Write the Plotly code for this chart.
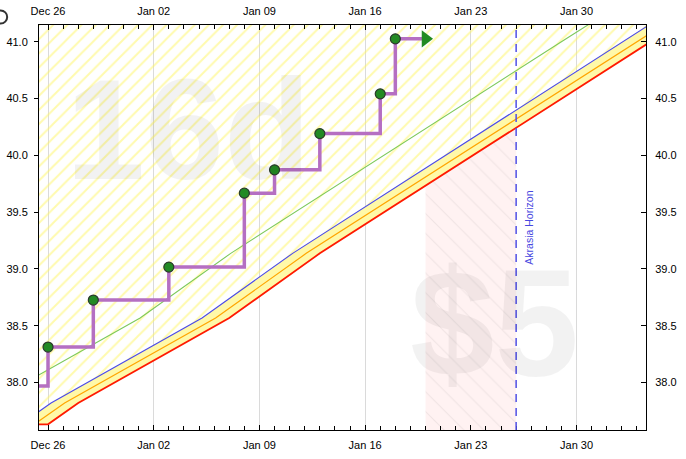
import plotly.graph_objects as go
import numpy as np
import pandas as pd

# ---------------- data ----------------
RED_DATES = ["2022-12-25", "2022-12-26", "2022-12-28", "2023-01-07", "2023-01-13", "2023-02-04"]
RED_VALUES = [37.632, 37.632, 37.820, 38.568, 39.137, 41.008]

ORANGE_DATES = ["2022-12-24 02:24", "2022-12-25 02:24", "2022-12-27 02:24", "2023-01-06 02:24",
                "2023-01-12 02:24", "2023-02-03 02:24", "2023-02-05"]
ORANGE_VALUES = [37.632, 37.632, 37.820, 38.568, 39.137, 41.008, 41.17]

BLUE_DATES = ["2022-12-23 04:48", "2022-12-24 04:48", "2022-12-26 04:48", "2023-01-05 04:48",
              "2023-01-11 04:48", "2023-02-02 04:48", "2023-02-05"]
BLUE_VALUES = [37.632, 37.632, 37.820, 38.568, 39.137, 41.008, 41.25]

GREEN_DATES = ["2022-12-20 02:24", "2022-12-22 02:24", "2023-01-01 02:24", "2023-01-07 02:24",
               "2023-01-29 02:24", "2023-02-05"]
GREEN_VALUES = [37.632, 37.820, 38.568, 39.137, 41.008, 41.59]

DATA_DATES = ["2022-12-25", "2022-12-26", "2022-12-29", "2023-01-03", "2023-01-08",
              "2023-01-10", "2023-01-13", "2023-01-17", "2023-01-18"]
DATA_VALUES = [37.969, 38.312, 38.726, 39.016, 39.667, 39.872, 40.191, 40.541, 41.025]

TODAY = "2023-01-20"
AKRASIA_HORIZON = "2023-01-26"
WATERMARK_DAYS = "16d"
WATERMARK_PLEDGE = "$5"

X_RANGE = ["2022-12-25 09:40", "2023-02-03 14:24"]
Y_RANGE = [37.582, 41.147]
Y_TICKS = [38.0, 38.5, 39.0, 39.5, 40.0, 40.5, 41.0]

# ---------------- derived ----------------
DAY_MS = 86400000
red_ts = pd.to_datetime(RED_DATES).astype("int64").to_numpy()
def red_at(d):
    t = pd.Timestamp(d).value
    return float(np.interp(t, red_ts, RED_VALUES))

YELLOW_HATCH = "#fff55c"
BAND = "#fff9a8"
FONT = "Liberation Sans, Arial, sans-serif"

fig = go.Figure()

# hatched "safe" region above blue line
fig.add_trace(go.Scatter(x=BLUE_DATES, y=BLUE_VALUES, mode="lines",
                         line=dict(width=0, color="rgba(0,0,0,0)"), hoverinfo="skip", showlegend=False))
top = Y_RANGE[1] + 0.6
fig.add_trace(go.Scatter(x=[BLUE_DATES[0], BLUE_DATES[-1]], y=[top, top], mode="lines",
                         line=dict(width=0, color="rgba(0,0,0,0)"), fill="tonexty",
                         fillcolor=YELLOW_HATCH,
                         fillpattern=dict(shape="/", fgcolor=YELLOW_HATCH, bgcolor="rgba(255,255,255,0)",
                                          size=10, solidity=0.2),
                         hoverinfo="skip", showlegend=False))

# solid yellow band between red and blue
fig.add_trace(go.Scatter(x=RED_DATES, y=RED_VALUES, mode="lines",
                         line=dict(width=0, color="rgba(0,0,0,0)"), hoverinfo="skip", showlegend=False))
fig.add_trace(go.Scatter(x=BLUE_DATES, y=BLUE_VALUES, mode="lines",
                         line=dict(width=0, color="rgba(0,0,0,0)"), fill="tonexty",
                         fillcolor=BAND, hoverinfo="skip", showlegend=False))

# pink zone between today and akrasia horizon, below the red line
bottom = Y_RANGE[0] - 0.5
fig.add_trace(go.Scatter(
    x=[TODAY, TODAY, AKRASIA_HORIZON, AKRASIA_HORIZON, TODAY],
    y=[bottom, red_at(TODAY), red_at(AKRASIA_HORIZON), bottom, bottom],
    mode="lines", line=dict(width=0, color="rgba(0,0,0,0)"), fill="toself",
    fillcolor="#fff0f0",
    fillpattern=dict(shape="\\", fgcolor="rgba(170,160,160,0.35)", bgcolor="#fff2f2",
                     size=14, solidity=0.08),
    hoverinfo="skip", showlegend=False))

# road lines
fig.add_trace(go.Scatter(x=GREEN_DATES, y=GREEN_VALUES, mode="lines",
                         line=dict(color="#7dc95a", width=1.1), showlegend=False))
fig.add_trace(go.Scatter(x=BLUE_DATES, y=BLUE_VALUES, mode="lines",
                         line=dict(color="#4a4ae8", width=1.1), showlegend=False))
fig.add_trace(go.Scatter(x=ORANGE_DATES, y=ORANGE_VALUES, mode="lines",
                         line=dict(color="#ffa500", width=1.2), showlegend=False))
fig.add_trace(go.Scatter(x=RED_DATES, y=RED_VALUES, mode="lines",
                         line=dict(color="#ff1a00", width=1.8), showlegend=False))

# step line of data
fig.add_trace(go.Scatter(x=DATA_DATES + [TODAY], y=DATA_VALUES + [DATA_VALUES[-1]], mode="lines",
                         line=dict(color="#b56fc2", width=3.5, shape="hv"), showlegend=False))
fig.add_trace(go.Scatter(x=DATA_DATES, y=DATA_VALUES, mode="markers",
                         marker=dict(size=10, color="#238a23", line=dict(color="#2b3a2b", width=1.2)),
                         showlegend=False))
fig.add_trace(go.Scatter(x=[TODAY], y=[DATA_VALUES[-1]], mode="markers",
                         marker=dict(symbol="triangle-right", size=15, color="#228b22", line=dict(width=0)),
                         showlegend=False))

# helper trace for the mirrored axes
fig.add_trace(go.Scatter(x=X_RANGE, y=Y_RANGE, xaxis="x2", yaxis="y2", mode="markers",
                         marker=dict(opacity=0), hoverinfo="skip", showlegend=False))

xcommon = dict(type="date", range=X_RANGE, tick0="2022-12-26", dtick=7 * DAY_MS,
               tickformat="%b %d", showline=True, linecolor="black", linewidth=1,
               ticks="inside", ticklen=5, tickcolor="black",
               tickfont=dict(family=FONT, size=11, color="black"),
               ticklabelstandoff=5, automargin=False,
               minor=dict(dtick=DAY_MS, ticks="inside", ticklen=4, tickcolor="black", showgrid=False),
               zeroline=False)
ycommon = dict(range=Y_RANGE, tickvals=Y_TICKS, tickformat=".1f", showline=True,
               linecolor="black", linewidth=1, tickcolor="black", automargin=False,
               tickfont=dict(family=FONT, size=11, color="black"), showgrid=False, zeroline=False)

fig.update_layout(
    width=686, height=459,
    margin=dict(l=39, r=40, t=25, b=29, autoexpand=False),
    paper_bgcolor="white", plot_bgcolor="white",
    xaxis=dict(**xcommon, showgrid=True, gridcolor="#dadada", gridwidth=1, side="bottom"),
    xaxis2=dict(**xcommon, showgrid=False, overlaying="x", side="top", anchor="y"),
    yaxis=dict(**ycommon, ticks="outside", ticklen=4, side="left", ticklabelstandoff=4),
    yaxis2=dict(**ycommon, ticks="inside", ticklen=5, overlaying="y", side="right", anchor="x",
                ticklabelstandoff=6),
    showlegend=False,
)

# Akrasia horizon
fig.add_shape(type="line", xref="x", yref="paper", x0=AKRASIA_HORIZON, x1=AKRASIA_HORIZON,
              y0=0, y1=1, line=dict(color="#5050e6", width=1.5, dash="8px,6px"))
fig.add_annotation(text="Akrasia Horizon", xref="x", yref="paper", x=AKRASIA_HORIZON, y=0.5,
                   xshift=12, textangle=-90, showarrow=False,
                   font=dict(family=FONT, size=10.5, color="#4848e0"))

# watermarks
fig.add_annotation(text=WATERMARK_DAYS, xref="paper", yref="paper", x=0.247, y=0.742,
                   xanchor="center", yanchor="middle", showarrow=False,
                   font=dict(family=FONT, size=142, color="rgba(0,0,0,0.05)", weight="bold"))
fig.add_annotation(text=WATERMARK_PLEDGE, xref="paper", yref="paper", x=0.75, y=0.265,
                   xanchor="center", yanchor="middle", showarrow=False,
                   font=dict(family=FONT, size=152, color="rgba(0,0,0,0.05)", weight="bold"))

# small ring icon at the top-left corner
fig.add_shape(type="circle", xref="paper", yref="paper", x0=-0.0739, x1=-0.0524, y0=1.0037, y1=1.0358,
              line=dict(color="#333333", width=2))

fig.write_html("out.html", config={"displayModeBar": False},
               post_script="document.body.style.margin='0px';")
